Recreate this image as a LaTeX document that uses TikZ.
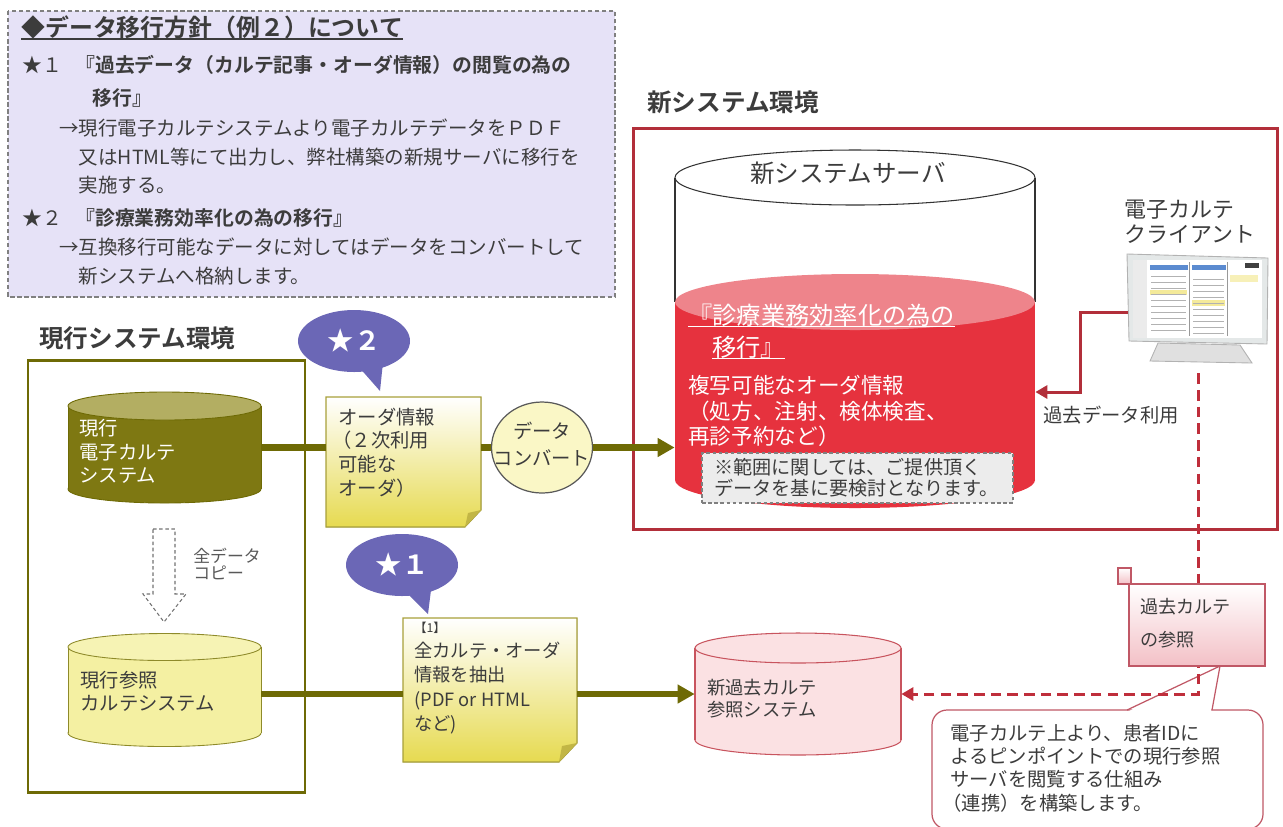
\documentclass[tikz,border=0pt]{standalone}
\usepackage{fontspec}
\setmainfont{Noto Sans CJK JP}[BoldFont={Noto Sans CJK JP Bold}]
\usetikzlibrary{arrows.meta,shapes.geometric}

\definecolor{ink}{HTML}{3C3C3C}
\definecolor{lav}{HTML}{E6E2F7}
\definecolor{olv}{HTML}{6E6A05}
\definecolor{olvbody}{HTML}{7E7812}
\definecolor{olvtop}{HTML}{B3AE62}
\definecolor{refbody}{HTML}{F4F0A2}
\definecolor{reftop}{HTML}{F6F3B4}
\definecolor{refedge}{HTML}{8E8A2A}
\definecolor{noteylw}{HTML}{E6DA50}
\definecolor{noteedge}{HTML}{A8A03A}
\definecolor{fold}{HTML}{C2B645}
\definecolor{convfill}{HTML}{FAF7C6}
\definecolor{bub}{HTML}{6B67B6}
\definecolor{wine}{HTML}{B22F3A}
\definecolor{srvred}{HTML}{E6323E}
\definecolor{srvtop}{HTML}{EE848B}
\definecolor{memo}{HTML}{ECECEC}
\definecolor{pinkfill}{HTML}{FBE1E3}
\definecolor{pinkedge}{HTML}{C8545E}
\definecolor{kakopink}{HTML}{F3C0C6}
\definecolor{calledge}{HTML}{C05866}
\definecolor{dashred}{HTML}{BF2E3B}
\definecolor{bezel}{HTML}{E4E8E8}
\definecolor{winblue}{HTML}{5B8BD0}
\definecolor{winyel}{HTML}{F4EA9A}

\def\fsz#1#2{\fontsize{#1}{#2}\selectfont}
% drum: [body][lid](centre x : x radius : lid y : floor y : y radius)
\def\drum[#1][#2](#3:#4:#5:#6:#7){%
	\draw[#1] (#3,#6) ellipse ({#4} and {#7});
	\fill[#1,draw=none] ({#3-#4},#5) rectangle ({#3+#4},#6);
	\draw[#1,fill=none] ({#3-#4},#5) -- ({#3-#4},#6) ({#3+#4},#5) -- ({#3+#4},#6);
	\draw[#2] (#3,#5) ellipse ({#4} and {#7});
}

\tikzset{
	txt/.style={inner sep=0pt, text=ink, align=left, anchor=west},
	hdr/.style={txt, font=\bfseries\fsz{14}{16}},
	slot/.style 2 args={inner sep=0pt, minimum width=#1*0.02cm, minimum height=#2*0.02cm},
	pipe/.style={draw=olv, line width=3.6pt},
	pipetip/.style={-{Triangle[length=0.34cm,width=0.36cm]}},
	redline/.style={draw=wine, line width=1.7pt},
	redtip/.style={-{Triangle[length=0.24cm,width=0.26cm]}},
	reddash/.style={draw=dashred, line width=1.7pt, dash pattern=on 6pt off 3.5pt},
	bubble/.style={ellipse, fill=bub, slot={112}{62}, text=white, font=\bfseries\fsz{15}{17}},
	note/.style={top color=white, bottom color=noteylw, draw=noteedge, line width=0.6pt},
}

\begin{document}
\begin{tikzpicture}[x=0.02cm, y=-0.02cm]
			%%%%% START %%%%%
			\useasboundingbox (0,0) rectangle (1283,826);
			\clip (0,0) rectangle (1283,826);
			
			% policy panel
			\draw[fill=lav, draw=black!50, line width=0.7pt, dash pattern=on 2.5pt off 1.5pt] (8,11) rectangle (615,297);
			\node[hdr, font=\bfseries\fsz{13.6}{16}] (ttl) at (21,27) {◆データ移行方針（例２）について};
			\draw[ink, line width=1pt] (ttl.south west) -- (ttl.south east);
			\node[txt, font=\fsz{11.3}{14}] (p1) at (22,65) {★１};
			\node[txt, font=\bfseries\fsz{11.3}{14}] (p1h) at (75,65) {『過去データ（カルテ記事・オーダ情報）の閲覧の為の};
			\node[txt, font=\bfseries\fsz{11.3}{14}] (p1k) at (92,98) {移行』};
			\node[txt, font=\fsz{11.1}{16.2}] (p1b) at (59,156.5) {→現行電子カルテシステムより電子カルテデータをＰＤＦ\\\hspace*{1em}又はHTML等にて出力し、弊社構築の新規サーバに移行を\\\hspace*{1em}実施する。};
			\node[txt, font=\fsz{11.3}{14}] (p2) at (22,218) {★２};
			\node[txt, font=\bfseries\fsz{11.3}{14}] (p2h) at (75,218) {『診療業務効率化の為の移行』};
			\node[txt, font=\fsz{11.1}{16.4}] (p2b) at (59,261.5) {→互換移行可能なデータに対してはデータをコンバートして\\\hspace*{1em}新システムへ格納します。};
			
			% new system
			\node[hdr] (newenv) at (647,102) {新システム環境};
			\draw[wine, line width=1.7pt] (633,128) rectangle (1277,529);
			\draw[black!80, line width=0.6pt] (675,177.5) -- (675,302) (1035,177.5) -- (1035,302);
			\draw[fill=white, draw=black!80, line width=0.6pt] (855,177.5) ellipse (180 and 27.5);
			\drum[fill=srvred, draw=none][fill=srvtop, draw=none](855:180:302:480:28)
			\node[slot={360}{302}] (srv) at (855,329) {};
			\node[inner sep=0pt, text=ink, font=\fsz{14}{16}] (srvname) at (848,173) {新システムサーバ};
			\node[txt, text=white, font=\fsz{13.8}{18}] (kaizen1) at (688,315) {『診療業務効率化の為の};
			\draw[white, line width=0.8pt] (kaizen1.south west) -- (kaizen1.south east);
			\node[txt, text=white, font=\fsz{13.8}{18}] (kaizen2) at (712,347) {移行』};
			\draw[white, line width=0.8pt] (kaizen2.south west) -- (kaizen2.south east);
			\node[txt, text=white, font=\fsz{12.3}{14.7}] (orders) at (688,411) {複写可能なオーダ情報\\（処方、注射、検体検査、\\再診予約など）};
			\node[draw=black!50, fill=memo, dash pattern=on 2pt off 1.5pt, line width=0.6pt, slot={311}{50}] (memo) at (857.5,478) {};
			\node[txt, font=\fsz{10.9}{11.9}] (memotxt) at (714,478) {※範囲に関しては、ご提供頂く\\データを基に要検討となります。};
			
			% client terminal
			\node[txt, font=\fsz{12.5}{14.2}] (clientname) at (1124,222) {電子カルテ\\クライアント};
			\filldraw[fill=bezel, draw=black!30, line width=0.5pt] (1127,254) -- (1268,258) -- (1267,344) -- (1129,341) -- cycle;
			\fill[white] (1133,260) rectangle (1262,338);
			\fill[black!8] (1133,260) rectangle (1147,338);
			\fill[winblue] (1150,265) rectangle (1188,270);
			\fill[winblue] (1192,265) rectangle (1226,270);
			\fill[winyel] (1150,290) rectangle (1187,295);
			\fill[winyel] (1192,300) rectangle (1225,306);
			\fill[winyel!70] (1230,275) rectangle (1258,282);
			\fill[black!75] (1245,263) rectangle (1259,268);
			\foreach \yy in {276,282,...,330} {
				\draw[black!30, line width=0.3pt] (1151,\yy) -- (1186,\yy);
				\draw[black!30, line width=0.3pt] (1193,\yy+3) -- (1224,\yy+3);
			}
			\draw[black!40, line width=0.4pt] (1189,262) -- (1189,336) (1227,262) -- (1227,336);
			\filldraw[fill=black!12, draw=black!30, line width=0.5pt] (1158,343) -- (1240,345) -- (1252,363) -- (1150,361) -- cycle;
			\node[slot={140}{112}] (cli) at (1198,312) {};
			
			\coordinate (bend) at (1080,392);
			\draw[redline, redtip] (cli.west) -| (bend) -- (bend -| srv.east);
			\node[txt, font=\fsz{11}{13}] (kakouse) at (1043,415) {過去データ利用};
			
			% current system
			\node[hdr] (curenv) at (39,338) {現行システム環境};
			\draw[olv, line width=1.7pt] (28,360) rectangle (305,792);
			\drum[fill=olvbody, draw=olv, line width=0.5pt][fill=olvtop, draw=olv, line width=0.5pt](164.5:96.5:406:489:14)
			\node[slot={193}{83}] (cur) at (164.5,447.5) {};
			\node[txt, text=white, font=\fsz{11}{13.3}] (curtxt) at (79,451.5) {現行\\電子カルテ\\システム};
			
			\draw[fill=white, draw=black!55, line width=0.6pt, dash pattern=on 2pt off 1.5pt] (153,529) -- (175,529) -- (175,594) -- (186,594) -- (164,622) -- (143,594) -- (153,594) -- cycle;
			\node[txt, text=black!65, font=\fsz{9.6}{10.2}] (cpy) at (193,564) {全データ\\コピー};
			
			\drum[fill=refbody, draw=refedge, line width=0.5pt][fill=reftop, draw=refedge, line width=0.5pt](164.5:96.5:647:733:13.5)
			\node[slot={193}{80}] (ref) at (164.5,694) {};
			\node[txt, font=\fsz{11}{13}] (reftxt) at (80,691.5) {現行参照\\カルテシステム};
			
			% sticky notes
			\filldraw[note] (326,397) -- (481,397) -- (481,510) -- (465,527) -- (326,527) -- cycle;
			\fill[fold] (465,527) -- (481,510) -- (468,513) -- cycle;
			\node[slot={155}{130}] (ord) at (403.5,462) {};
			\node[txt, font=\fsz{11}{13.4}] (ordtxt) at (338,452.5) {オーダ情報\\\hspace*{-0.3em}（２次利用\\可能な\\オーダ）};
			
			\node[ellipse, fill=convfill, draw=black!65, line width=0.7pt, slot={101}{91}] (conv) at (542,447.5) {};
			\node[inner sep=0pt, text=ink, align=center, font=\fsz{11}{15.3}] (convtxt) at (542,444) {データ\\コンバート};
			
			\filldraw[note] (403,618) -- (577,618) -- (577,743) -- (559,762) -- (403,762) -- cycle;
			\fill[fold] (559,762) -- (577,743) -- (562,746) -- cycle;
			\node[slot={174}{144}] (ext) at (490,690) {};
			\node[txt, font=\fsz{7}{8}] (extno) at (414,628) {【1】};
			\node[txt, font=\fsz{10.4}{14}] (exttxt) at (414,688) {全カルテ・オーダ\\情報を抽出\\(PDF or HTML\\など)};
			
			% star bubbles
			\fill[bub] (358,366) -- (380,391) -- (383,362) -- cycle;
			\node[bubble] (b2) at (354,341) {★２};
			\fill[bub] (406,592) -- (428,614) -- (431,590) -- cycle;
			\node[bubble] (b1) at (402,565) {★１};
			
			% past chart system
			\drum[fill=pinkfill, draw=pinkedge, line width=0.6pt][fill=pinkfill, draw=pinkedge, line width=0.6pt](798:103:648:740:15)
			\node[slot={206}{92}] (past) at (798,694) {};
			\node[txt, font=\fsz{10.4}{12.5}] (pasttxt) at (707,699) {新過去カルテ\\参照システム};
			
			% callout
			\draw[fill=white, draw=calledge, line width=0.7pt, rounded corners=0.3cm] (932,710) rectangle (1263,829);
			\fill[white] (1128,711.5) -- (1220,666) -- (1211,711.5) -- cycle;
			\draw[calledge, line width=0.7pt] (1127,710) -- (1220,666) -- (1212,710);
			\node[txt, font=\fsz{11}{13.2}] (calltxt) at (950,768) {電子カルテ上より、患者IDに\\よるピンポイントでの現行参照\\サーバを閲覧する仕組み\\\hspace*{-0.4em}（連携）を構築します。};
			
			% pipes
			\draw[pipe] (cur.east) -- (cur.east -| ord.west);
			\draw[pipe] (ord.east |- conv.west) -- (conv.west);
			\draw[pipe, pipetip] (conv.east) -- (conv.east -| srv.west);
			\draw[pipe] (ref.east) -- (ref.east -| ext.west);
			\draw[pipe, pipetip] (ext.east |- past.west) -- (past.west);
			
			\draw[reddash, redtip] ([yshift=-0.1cm]cli.south) |- (past.east);
			
			\filldraw[top color=white, bottom color=kakopink, draw=calledge, line width=0.6pt] (1118,568) rectangle (1131,584);
			\filldraw[top color=white, bottom color=kakopink, draw=calledge, line width=0.6pt] (1129,584) rectangle (1265,666);
			\node[txt, font=\fsz{10.3}{18.7}] (kakotxt) at (1140,623.5) {過去カルテ\\の参照};
			%%%%% END %%%%%
\end{tikzpicture}
\end{document}
